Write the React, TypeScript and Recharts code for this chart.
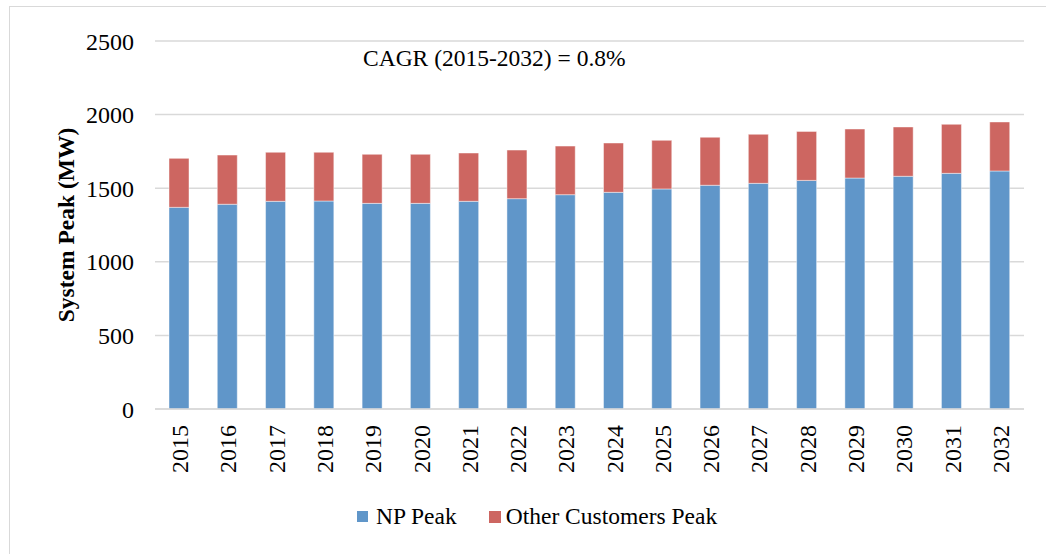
import React from 'react';
import { BarChart, Bar, XAxis, YAxis, CartesianGrid, Legend, Customized } from 'recharts';

const years = ['2015','2016','2017','2018','2019','2020','2021','2022','2023','2024','2025','2026','2027','2028','2029','2030','2031','2032'];
const npPeak = [1370,1391,1411,1413,1397,1397,1411,1429,1456,1472,1495,1520,1533,1553,1569,1581,1601,1617];
const otherPeak = [333,334,333,331,333,333,328,330,330,335,330,326,333,333,333,335,333,333];
const yTicks = [0,500,1000,1500,2000,2500];
const seriesNames = ['NP Peak', 'Other Customers Peak'];
const annotation = 'CAGR (2015-2032) = 0.8%';

const data = years.map((y, i) => ({ year: y, np: npPeak[i], other: otherPeak[i] }));

const FONT = '"Liberation Serif", "Times New Roman", serif';
const BLUE = '#6096C9';
const RED = '#CD6661';

const XTick = (props: any) => {
  const { x, y, payload } = props;
  return (
    <text
      x={x}
      y={y + 8}
      dy={9}
      transform={`rotate(-90, ${x}, ${y + 8})`}
      textAnchor="end"
      fontFamily={FONT}
      fontSize={24}
      fill="#000"
    >
      {payload.value}
    </text>
  );
};

const LegendContent = () => (
  <div style={{ display: 'flex', alignItems: 'center', fontFamily: FONT, fontSize: 23.5, color: '#000', whiteSpace: 'nowrap' }}>
    <span style={{ width: 11, height: 11, background: BLUE, display: 'inline-block', marginRight: 8 }} />
    <span style={{ marginRight: 32 }}>{seriesNames[0]}</span>
    <span style={{ width: 12, height: 12, background: RED, display: 'inline-block', marginRight: 5 }} />
    <span>{seriesNames[1]}</span>
  </div>
);

const Annotation = () => (
  <text x={363} y={58} dominantBaseline="central" fontFamily={FONT} fontSize={23.5} fill="#000">
    {annotation}
  </text>
);

export default function App() {
  return (
    <div style={{ position: 'absolute', left: 0, top: 0, width: 1046, height: 554, background: '#fff', overflow: 'hidden' }}>
      <div style={{ position: 'absolute', left: 9, top: 6, width: 1200, height: 700, borderTop: '1.5px solid #d9d9d9', borderLeft: '1.5px solid #d9d9d9' }} />
      <div style={{ position: 'absolute', left: 0, top: 0 }}>
        <BarChart
          width={1046}
          height={554}
          data={data}
          margin={{ top: 41, right: 22, left: 0, bottom: 0 }}
          barSize={20}
        >
          <CartesianGrid vertical={false} stroke="#d9d9d9" strokeWidth={1.5} />
          <XAxis
            dataKey="year"
            height={145}
            axisLine={{ stroke: '#d9d9d9', strokeWidth: 1.5 }}
            tickLine={false}
            interval={0}
            tick={<XTick />}
          />
          <YAxis
            width={155}
            domain={[0, 2500]}
            ticks={yTicks}
            axisLine={false}
            tickLine={false}
            tickMargin={15}
            tick={{ fontFamily: FONT, fontSize: 24, fill: '#000' }}
            label={{
              value: 'System Peak (MW)',
              angle: -90,
              position: 'center',
              dx: -12,
              style: { fontFamily: FONT, fontSize: 23.5, fontWeight: 'bold', fill: '#000', textAnchor: 'middle' },
            }}
          />
          <Legend
            layout="horizontal"
            verticalAlign="middle"
            align="center"
            content={<LegendContent />}
            wrapperStyle={{ top: 503, left: 357, width: 500 }}
          />
          <Bar dataKey="np" name={seriesNames[0]} stackId="a" fill={BLUE} stroke="rgba(255,255,255,0.45)" strokeWidth={1} isAnimationActive={false} />
          <Bar dataKey="other" name={seriesNames[1]} stackId="a" fill={RED} stroke="rgba(255,255,255,0.45)" strokeWidth={1} isAnimationActive={false} />
          <Customized component={Annotation} />
        </BarChart>
      </div>
    </div>
  );
}
